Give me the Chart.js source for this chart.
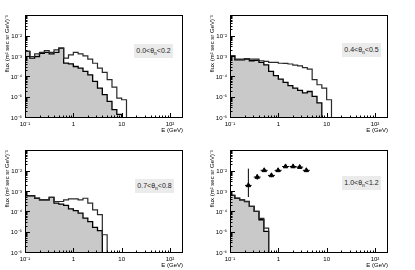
<!DOCTYPE html>
<html><head><meta charset="utf-8">
<script src="https://cdn.jsdelivr.net/npm/chart.js@4.4.1/dist/chart.umd.min.js"></script>
<style>
html,body{margin:0;padding:0;background:#fff}
body{width:415px;height:270px;position:relative;overflow:hidden;font-family:"Liberation Sans",Arial,sans-serif}
.p{position:absolute;width:207px;height:135px}
.p canvas{display:block}
.lab{position:absolute;background:#ebebeb;color:#222;font-size:7px;line-height:14px;height:14px;width:39px;text-align:center;white-space:nowrap}
.lab sub{font-size:5px;vertical-align:-2px;line-height:0}
</style>
</head><body>
<div class="p" style="left:0;top:0"><canvas id="c1" width="207" height="135"></canvas></div>
<div class="p" style="left:205px;top:0"><canvas id="c2" width="207" height="135"></canvas></div>
<div class="p" style="left:0;top:135px"><canvas id="c3" width="207" height="135"></canvas></div>
<div class="p" style="left:205px;top:135px"><canvas id="c4" width="207" height="135"></canvas></div>
<div class="lab" style="left:134px;top:44px">0.0&lt;θ<sub>n</sub>&lt;0.2</div>
<div class="lab" style="left:342px;top:43px">0.4&lt;θ<sub>n</sub>&lt;0.5</div>
<div class="lab" style="left:135px;top:179px">0.7&lt;θ<sub>n</sub>&lt;0.8</div>
<div class="lab" style="left:342px;top:176px">1.0&lt;θ<sub>n</sub>&lt;1.2</div>
<script>
// bin edges (GeV)
const EDGES = [0.1,0.1259,0.1585,0.1995,0.2512,0.3162,0.3981,0.5012,0.631,0.7943,1,1.259,1.585,1.995,2.512,3.162,3.981,5.012,6.31,7.943,10,12.59];
const X_TICKS = [0.1,1,10,100];
const X_LABELS = ['10⁻¹','1','10','10²'];
const Y_TICKS = [1e-6,1e-5,1e-4,1e-3,1e-2];
const Y_LABELS = ['10⁻⁶','10⁻⁵','10⁻⁴','10⁻³','10⁻²'];

// panel 1: 0.0<θn<0.2
const P1_FILLED = [1.86e-3,8.7e-4,1.05e-3,1.51e-3,1.66e-3,1.41e-3,1.66e-3,2.69e-3,5.0e-4,4.6e-4,3.4e-4,2.8e-4,1.95e-4,1.32e-4,6.3e-5,2.95e-5,1.41e-5,6.6e-6,2.6e-6,1.5e-6];
const P1_OUTLINE = [1.86e-3,1.05e-3,1.41e-3,1.66e-3,2.04e-3,1.66e-3,2.24e-3,2.69e-3,8.7e-4,1.26e-3,1.66e-3,1.41e-3,1.12e-3,7.8e-4,4.9e-4,2.8e-4,1.74e-4,7.6e-5,3.3e-5,9.5e-6,7.9e-6];
// panel 2: 0.4<θn<0.5
const P2_FILLED = [1.12e-3,7.2e-4,7.2e-4,7.8e-4,6.5e-4,6.8e-4,5.4e-4,4.1e-4,1.95e-4,1.2e-4,8.1e-5,5.6e-5,3.9e-5,2.95e-5,2.3e-5,1.7e-5,2.0e-5,1.15e-5,5.5e-6];
const P2_OUTLINE = [1.12e-3,7.8e-4,7.8e-4,8.3e-4,7.8e-4,7.8e-4,6.5e-4,6.0e-4,5.4e-4,5.4e-4,4.9e-4,4.8e-4,4.5e-4,4.0e-4,3.6e-4,3.0e-4,2.5e-4,7.6e-5,4.3e-5,2.95e-5,7.9e-6];
// panel 3: 0.7<θn<0.8
const P3_FILLED = [6.5e-4,6.5e-4,4.9e-4,4.1e-4,4.1e-4,5.4e-4,2.8e-4,2.5e-4,2.2e-4,1.48e-4,1.2e-4,9.1e-5,5.2e-5,3.5e-5,1.8e-5,1.26e-5];
const P3_OUTLINE = [6.5e-4,6.5e-4,4.9e-4,4.1e-4,4.1e-4,5.4e-4,3.4e-4,3.4e-4,4.1e-4,4.6e-4,4.6e-4,4.1e-4,4.9e-4,2.8e-4,1.32e-4,7.6e-5,7.9e-6];
// panel 4: 1.0<θn<1.2
const P4_FILLED = [6.8e-4,4.9e-4,4.1e-4,3.4e-4,1.95e-4,1.1e-4,4.3e-5,1.15e-5];
const P4_OUTLINE = [6.8e-4,4.9e-4,4.1e-4,3.4e-4,1.95e-4,1.1e-4,5.0e-5,1.66e-5];
const P4_PT_E = [0.24,0.366,0.51,0.72,0.99,1.41,2.02,2.77,3.8];
const P4_PT_E_LO = [0.205,0.31,0.43,0.61,0.84,1.2,1.71,2.35,3.22];
const P4_PT_E_HI = [0.28,0.43,0.6,0.85,1.17,1.66,2.38,3.27,4.48];
const P4_PT_FLUX = [2.1e-3,5.4e-3,1.15e-2,6.5e-3,1.15e-2,1.78e-2,1.78e-2,1.66e-2,1.15e-2];
const P4_PT_FLUX_LO = [5.6e-4,4.0e-3,9.5e-3,5.3e-3,9.5e-3,1.5e-2,1.5e-2,1.4e-2,9.5e-3];
const P4_PT_FLUX_HI = [1.4e-2,7.3e-3,1.4e-2,8.0e-3,1.4e-2,2.1e-2,2.1e-2,2.0e-2,1.4e-2];

function hist(vals){
  const pts = vals.map((v,i)=>({x:EDGES[i], y:v}));
  const n = vals.length;
  pts.push({x:EDGES[n], y:vals[n-1]});
  pts.push({x:EDGES[n], y:1e-8});
  return pts;
}

const rootAxes = {
  id:'rootAxes',
  afterDraw(chart){
    const {ctx, chartArea:a, scales:{x,y}} = chart;
    ctx.save();
    ctx.strokeStyle = '#000';
    ctx.lineWidth = 1;
    ctx.beginPath();
    for (let k=-1;k<=2;k++){
      for (let m=1;m<=9;m++){
        const v = m*Math.pow(10,k);
        if (v < x.min*0.999 || v > x.max) continue;
        const px = Math.round(x.getPixelForValue(v))+0.5;
        const len = m===1?5:2.5;
        ctx.moveTo(px, a.bottom); ctx.lineTo(px, a.bottom-len);
      }
    }
    for (let k=-6;k<=-1;k++){
      for (let m=1;m<=9;m++){
        const v = m*Math.pow(10,k);
        if (v < y.min*0.999 || v > y.max) continue;
        const py = Math.round(y.getPixelForValue(v))-0.5;
        const len = m===1?5:2.5;
        ctx.moveTo(a.left, py); ctx.lineTo(a.left+len, py);
      }
    }
    ctx.stroke();
    ctx.strokeRect(a.left+0.5, a.top+0.5, a.right-a.left-1, a.bottom-a.top-1);
    ctx.restore();
  }
};

const errorBars = {
  id:'errorBars',
  afterDatasetsDraw(chart){
    if (!chart.options.plugins.errorBars || !chart.options.plugins.errorBars.on) return;
    const {ctx, scales:{x,y}} = chart;
    ctx.save();
    ctx.strokeStyle = '#000';
    ctx.lineWidth = 1;
    ctx.beginPath();
    P4_PT_E.forEach((e,i)=>{
      const px = x.getPixelForValue(e), py = y.getPixelForValue(P4_PT_FLUX[i]);
      ctx.moveTo(x.getPixelForValue(P4_PT_E_LO[i]), py);
      ctx.lineTo(x.getPixelForValue(P4_PT_E_HI[i]), py);
      ctx.moveTo(px, y.getPixelForValue(P4_PT_FLUX_LO[i]));
      ctx.lineTo(px, y.getPixelForValue(P4_PT_FLUX_HI[i]));
    });
    ctx.stroke();
    ctx.restore();
  }
};

const FONT = "'Liberation Sans', Arial, sans-serif";

function makeChart(id, filled, outline, points){
  const datasets = [
    {data:hist(outline), borderColor:'#2a2a2a', borderWidth:1.2, fill:false, stepped:'before', pointRadius:0, tension:0},
    {data:hist(filled), borderColor:'#000', borderWidth:1.3, backgroundColor:'#c9c9c9', fill:'start', stepped:'before', pointRadius:0, tension:0}
  ];
  if (points){
    datasets.unshift({data:P4_PT_E.map((e,i)=>({x:e,y:P4_PT_FLUX[i]})), showLine:false, pointStyle:'triangle', pointRadius:2.6, backgroundColor:'#000', borderColor:'#000', borderWidth:1});
  }
  new Chart(document.getElementById(id), {
    type:'line',
    data:{datasets},
    options:{
      responsive:false, animation:false, events:[],
      layout:{padding:{left:0,right:24,top:15,bottom:0}},
      plugins:{legend:{display:false}, tooltip:{enabled:false}, errorBars:{on:!!points}},
      scales:{
        x:{
          type:'logarithmic', min:0.1, max:186,
          afterBuildTicks:s=>{s.ticks = X_TICKS.map(v=>({value:v}));},
          afterFit:s=>{s.height = 17;},
          grid:{display:false, drawTicks:false},
          border:{display:false},
          ticks:{autoSkip:false, maxRotation:0, padding:3, color:'#000', font:{family:FONT,size:6},
            callback:(v)=>{const i = X_TICKS.indexOf(v); return i>=0?X_LABELS[i]:'';}},
          title:{display:true, text:'E (GeV)', align:'end', color:'#000', font:{family:FONT,size:6}, padding:{top:0,bottom:1.5}}
        },
        y:{
          type:'logarithmic', min:1e-6, max:0.115,
          afterBuildTicks:s=>{s.ticks = Y_TICKS.map(v=>({value:v}));},
          afterFit:s=>{s.width = 25;},
          grid:{display:false, drawTicks:false},
          border:{display:false},
          ticks:{autoSkip:false, padding:3, color:'#000', font:{family:FONT,size:6},
            callback:(v)=>{const i = Y_TICKS.indexOf(v); return i>=0?Y_LABELS[i]:'';}},
          title:{display:true, text:'flux (m² sec sr GeV)⁻¹', align:'end', color:'#000', font:{family:FONT,size:6}, padding:{top:4,bottom:0}}
        }
      }
    },
    plugins:[rootAxes, errorBars]
  });
}

makeChart('c1', P1_FILLED, P1_OUTLINE, false);
makeChart('c2', P2_FILLED, P2_OUTLINE, false);
makeChart('c3', P3_FILLED, P3_OUTLINE, false);
makeChart('c4', P4_FILLED, P4_OUTLINE, true);
</script>
</body></html>
